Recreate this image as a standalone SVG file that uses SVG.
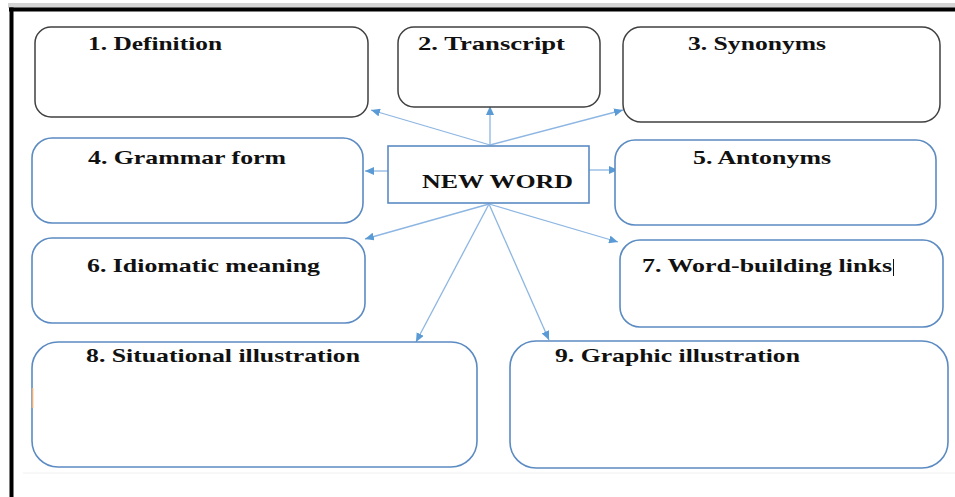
<svg xmlns="http://www.w3.org/2000/svg" width="955" height="497" viewBox="0 0 955 497">
  <style>
    .box-dark { fill: #ffffff; stroke: #404040; stroke-width: 1.5; }
    .box-blue { fill: #ffffff; stroke: #5b8bc2; stroke-width: 1.6; }
    .label { font-family: "Liberation Serif", "Times New Roman", serif; font-weight: bold; font-size: 19px; fill: #111111; }
    .link { stroke: #8db6e2; stroke-width: 1.3; fill: none; marker-end: url(#arrow); }
  </style>
  <defs>
    <marker id="arrow" markerUnits="userSpaceOnUse" markerWidth="10" markerHeight="8" refX="9" refY="4" orient="auto">
      <path d="M0,0 L9,4 L0,8 Z" fill="#5b9bd5"/>
    </marker>
  </defs>

  <!-- page background and frame -->
  <rect x="0" y="0" width="955" height="497" fill="#ffffff"/>
  <rect x="8" y="3" width="947" height="5" fill="#d4d4d4"/>
  <rect x="9" y="7.5" width="946" height="4" fill="#000000"/>
  <rect x="9.5" y="7.5" width="4" height="489.5" fill="#000000"/>
  <line x1="23" y1="473" x2="955" y2="473" stroke="#f0f0f0" stroke-width="1"/>

  <!-- connectors -->
  <g id="connectors">
    <line class="link" x1="490" y1="145" x2="371" y2="110"/>
    <line class="link" x1="490" y1="145" x2="490" y2="106"/>
    <line class="link" x1="490" y1="145" x2="623" y2="110"/>
    <line class="link" x1="388" y1="171" x2="365" y2="171"/>
    <line class="link" x1="589" y1="170" x2="618" y2="170"/>
    <line class="link" x1="489" y1="204" x2="365" y2="239"/>
    <line class="link" x1="489" y1="204" x2="618" y2="242"/>
    <line class="link" x1="489" y1="204" x2="416" y2="342"/>
    <line class="link" x1="489" y1="204" x2="549" y2="340"/>
  </g>

  <g id="node-definition">
    <rect class="box-dark" x="35" y="27" width="333" height="90" rx="16"/>
    <text class="label" x="88" y="50" textLength="134" lengthAdjust="spacingAndGlyphs">1. Definition</text>
  </g>
  <g id="node-transcript">
    <rect class="box-dark" x="398" y="27" width="202" height="80" rx="16"/>
    <text class="label" x="418" y="50" textLength="147" lengthAdjust="spacingAndGlyphs">2. Transcript</text>
  </g>
  <g id="node-synonyms">
    <rect class="box-dark" x="623" y="27" width="317" height="95" rx="18"/>
    <text class="label" x="688" y="50" textLength="138" lengthAdjust="spacingAndGlyphs">3. Synonyms</text>
  </g>
  <g id="node-grammar">
    <rect class="box-blue" x="32" y="138" width="331" height="85" rx="20"/>
    <text class="label" x="88" y="164" textLength="198" lengthAdjust="spacingAndGlyphs">4. Grammar form</text>
  </g>
  <g id="node-new-word">
    <rect x="388" y="146" width="201" height="57" fill="#ffffff" stroke="#5b8bc2" stroke-width="1.6"/>
    <text class="label" x="422" y="188" textLength="151" lengthAdjust="spacingAndGlyphs">NEW WORD</text>
  </g>
  <g id="node-antonyms">
    <rect class="box-blue" x="615" y="140" width="321" height="85" rx="20"/>
    <text class="label" x="693" y="164" textLength="138" lengthAdjust="spacingAndGlyphs">5. Antonyms</text>
  </g>
  <g id="node-idiomatic">
    <rect class="box-blue" x="32" y="238" width="333" height="85" rx="20"/>
    <text class="label" x="87" y="272" textLength="233" lengthAdjust="spacingAndGlyphs">6. Idiomatic meaning</text>
  </g>
  <g id="node-word-building">
    <rect class="box-blue" x="620" y="240" width="323" height="87" rx="20"/>
    <text class="label" x="642" y="272" textLength="250" lengthAdjust="spacingAndGlyphs">7. Word-building links</text>
    <line x1="893.5" y1="259" x2="893.5" y2="276" stroke="#111111" stroke-width="1"/>
  </g>
  <g id="node-situational">
    <rect class="box-blue" x="32" y="342" width="445" height="125" rx="26"/>
    <line x1="32.5" y1="388" x2="32.5" y2="408" stroke="#e8b07a" stroke-width="1.6"/>
    <text class="label" x="86" y="362" textLength="274" lengthAdjust="spacingAndGlyphs">8. Situational illustration</text>
  </g>
  <g id="node-graphic">
    <rect class="box-blue" x="510" y="341" width="438" height="127" rx="26"/>
    <text class="label" x="555" y="362" textLength="245" lengthAdjust="spacingAndGlyphs">9. Graphic illustration</text>
  </g>
</svg>
